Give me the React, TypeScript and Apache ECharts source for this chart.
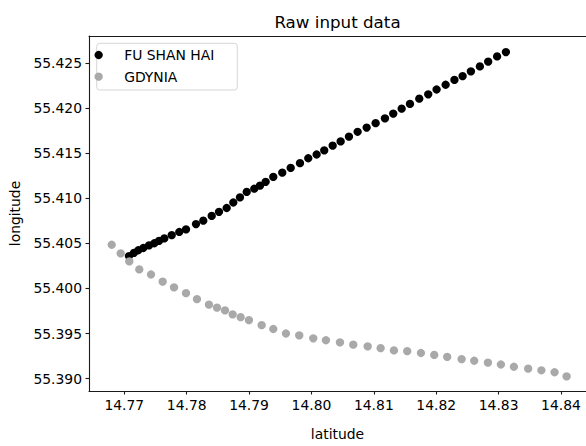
import React, { useEffect, useRef } from "react";
import * as echarts from "echarts";

const fuShanHaiLat = [
  14.77075, 14.77155, 14.77224, 14.77304, 14.77396, 14.77481, 14.77556, 14.77641, 14.7776, 14.77881,
  14.77989, 14.78149, 14.78266, 14.78401, 14.78518, 14.78641, 14.78747, 14.78854, 14.78962, 14.79083,
  14.79175, 14.79266, 14.79388, 14.79532, 14.79667, 14.79816, 14.79949, 14.80083, 14.80205, 14.8034,
  14.80468, 14.80601, 14.8074, 14.80885, 14.81029, 14.81178, 14.81311, 14.81446, 14.81579, 14.81728,
  14.81872, 14.82006, 14.82151, 14.82292, 14.82423, 14.82556, 14.827, 14.82833, 14.82976, 14.83117,
];
const fuShanHaiLon = [
  55.4036, 55.40396, 55.40424, 55.40449, 55.40478, 55.40502, 55.40528, 55.40555, 55.40592, 55.40627,
  55.40656, 55.40715, 55.40752, 55.40805, 55.40851, 55.40893, 55.40954, 55.41011, 55.41071, 55.41107,
  55.41142, 55.41184, 55.41238, 55.41285, 55.41338, 55.41391, 55.41445, 55.41487, 55.41533, 55.41586,
  55.41632, 55.41686, 55.41739, 55.41786, 55.41835, 55.41888, 55.41941, 55.41995, 55.42048, 55.42106,
  55.42155, 55.42208, 55.42261, 55.42315, 55.42357, 55.4241, 55.42464, 55.42517, 55.42575, 55.42624,
];
const gdyniaLat = [
  14.76798, 14.76942, 14.7708, 14.7724, 14.77428, 14.77615, 14.77797, 14.77989, 14.78165, 14.78357,
  14.78486, 14.78614, 14.78737, 14.78865, 14.78998, 14.79202, 14.79388, 14.79591, 14.79804, 14.80029,
  14.80232, 14.80457, 14.8067, 14.80901, 14.81109, 14.81322, 14.81535, 14.81755, 14.81968, 14.82176,
  14.82407, 14.82609, 14.82829, 14.83037, 14.83245, 14.83474, 14.83686, 14.83897, 14.8409,
];
const gdyniaLon = [
  55.40485, 55.40389, 55.403, 55.40211, 55.40155, 55.40076, 55.40012, 55.39948, 55.39881, 55.3982,
  55.39788, 55.39756, 55.39713, 55.39681, 55.39649, 55.39593, 55.3955, 55.395, 55.39479, 55.39447,
  55.39425, 55.39401, 55.39376, 55.39358, 55.39337, 55.39312, 55.39305, 55.39284, 55.39262, 55.39241,
  55.39216, 55.39198, 55.39177, 55.39156, 55.39131, 55.3911, 55.39092, 55.3907, 55.39025,
];

const xTicks = [14.77, 14.78, 14.79, 14.8, 14.81, 14.82, 14.83, 14.84];
const yTicks = [55.39, 55.395, 55.4, 55.405, 55.41, 55.415, 55.42, 55.425];

const seriesNames = ["FU SHAN HAI", "GDYNIA"];
const seriesColors = ["#000000", "#a9a9a9"];

const FONT = "DejaVu Sans";

export default function App() {
  const ref = useRef<HTMLDivElement>(null);
  useEffect(() => {
    document.body.style.margin = "0";
    const chart = echarts.init(ref.current!, undefined, { renderer: "svg" });
    const fuData = fuShanHaiLat.map((x, i) => [x, fuShanHaiLon[i]]);
    const gdData = gdyniaLat.map((x, i) => [x, gdyniaLon[i]]);
    const axisLineStyle = { color: "#1a1a1a", width: 1.1 };
    chart.setOption({
      animation: false,
      textStyle: { fontFamily: FONT },
      grid: { left: 89, top: 36, width: 497, height: 369.6, containLabel: false },
      xAxis: [
        {
          type: "value",
          min: 14.76434,
          max: 14.84401,
          name: "latitude",
          nameLocation: "middle",
          nameGap: 36,
          nameTextStyle: { fontSize: 13.9, color: "#000", fontFamily: FONT },
          axisLine: { show: true, onZero: false, lineStyle: axisLineStyle },
          axisTick: { show: true, inside: false, length: 3.5, lineStyle: axisLineStyle, customValues: xTicks },
          axisLabel: {
            show: true,
            margin: 7,
            fontSize: 13.9,
            color: "#000",
            fontFamily: FONT,
            customValues: xTicks,
            formatter: (v: number) => v.toFixed(2),
          },
          splitLine: { show: false },
        },
        {
          type: "value",
          position: "top",
          min: 14.76434,
          max: 14.84401,
          axisLine: { show: true, onZero: false, lineStyle: axisLineStyle },
          axisTick: { show: false },
          axisLabel: { show: false },
          splitLine: { show: false },
        },
      ],
      yAxis: {
        type: "value",
        min: 55.38862,
        max: 55.42802,
        name: "longitude",
        nameLocation: "middle",
        nameGap: 60,
        nameTextStyle: { fontSize: 13.9, color: "#000", fontFamily: FONT },
        axisLine: { show: true, onZero: false, lineStyle: axisLineStyle },
        axisTick: { show: true, inside: false, length: 3.5, lineStyle: axisLineStyle, customValues: yTicks },
        axisLabel: {
          show: true,
          margin: 7,
          fontSize: 13.9,
          color: "#000",
          fontFamily: FONT,
          customValues: yTicks,
          formatter: (v: number) => v.toFixed(3),
        },
        splitLine: { show: false },
      },
      legend: {
        orient: "vertical",
        left: 94.5,
        top: 48,
        padding: 0,
        itemWidth: 41,
        itemHeight: 8.3,
        itemGap: 7.7,
        icon: "circle",
        data: seriesNames,
        textStyle: { fontSize: 13.9, color: "#000", fontFamily: FONT },
      },
      graphic: [
        {
          type: "rect",
          shape: { x: 96.7, y: 43.3, width: 140.6, height: 46.7, r: 3 },
          style: { fill: "rgba(255,255,255,0.8)", stroke: "#d6d6d6", lineWidth: 1 },
          z: -1,
        },
        {
          type: "text",
          x: 337.5,
          y: 22,
          style: {
            text: "Raw input data",
            fontSize: 16.7,
            fontFamily: FONT,
            fill: "#000",
            textAlign: "center",
            textVerticalAlign: "middle",
          },
        },
      ],
      series: [
        {
          name: seriesNames[0],
          type: "scatter",
          xAxisIndex: 0,
          data: fuData,
          symbolSize: 8.3,
          itemStyle: { color: seriesColors[0], opacity: 1 },
        },
        {
          name: seriesNames[1],
          type: "scatter",
          xAxisIndex: 0,
          data: gdData,
          symbolSize: 8.3,
          itemStyle: { color: seriesColors[1], opacity: 1 },
        },
      ],
    });
    return () => chart.dispose();
  }, []);
  return <div ref={ref} style={{ width: 586, height: 446 }} />;
}
